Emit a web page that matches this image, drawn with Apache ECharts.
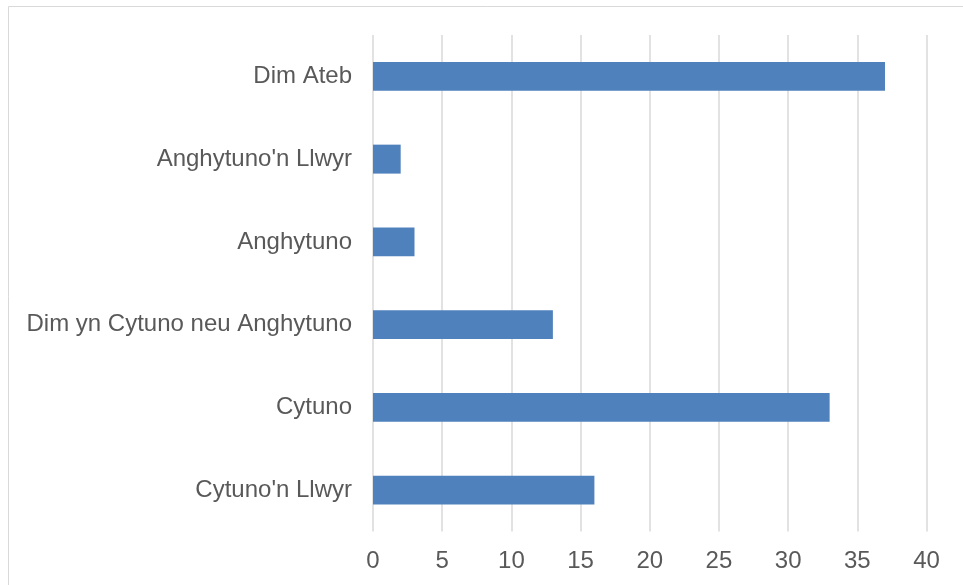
<!DOCTYPE html>
<html>
<head>
<meta charset="utf-8">
<script src="https://cdn.jsdelivr.net/npm/echarts@6/dist/echarts.min.js"></script>
<style>html,body{margin:0;padding:0;background:#fff;}#c{width:963px;height:585px;}</style>
</head>
<body>
<div id="c"></div>
<script>
const categories = ["Cytuno'n Llwyr", "Cytuno", "Dim yn Cytuno neu Anghytuno", "Anghytuno", "Anghytuno'n Llwyr", "Dim Ateb"];
const values = [16, 33, 13, 3, 2, 37];
const axisMin = 0, axisMax = 40, axisStep = 5;

const chart = echarts.init(document.getElementById('c'), null, {renderer: 'canvas'});
chart.setOption({
  animation: false,
  backgroundColor: '#ffffff',
  graphic: [{
    type: 'rect',
    shape: {x: 8.5, y: 6.5, width: 1000, height: 1000},
    style: {fill: 'none', stroke: '#d9d9d9', lineWidth: 1},
    silent: true
  }],
  grid: {left: 373, right: 36.5, top: 35, bottom: 53.5, containLabel: false},
  xAxis: {
    type: 'value', min: axisMin, max: axisMax, interval: axisStep,
    axisLine: {show: false}, axisTick: {show: false},
    splitLine: {show: true, lineStyle: {color: '#d9d9d9', width: 1.5}},
    axisLabel: {color: '#595959', fontSize: 24, fontFamily: 'Liberation Sans, Arial, sans-serif', margin: 18}
  },
  yAxis: {
    type: 'category', data: categories,
    axisLine: {show: false}, axisTick: {show: false}, splitLine: {show: false},
    axisLabel: {color: '#595959', fontSize: 24, fontFamily: 'Liberation Sans, Arial, sans-serif', margin: 21}
  },
  series: [{
    type: 'bar', data: values, barWidth: '35%',
    itemStyle: {color: '#4f81bd'}
  }]
});
</script>
</body>
</html>
